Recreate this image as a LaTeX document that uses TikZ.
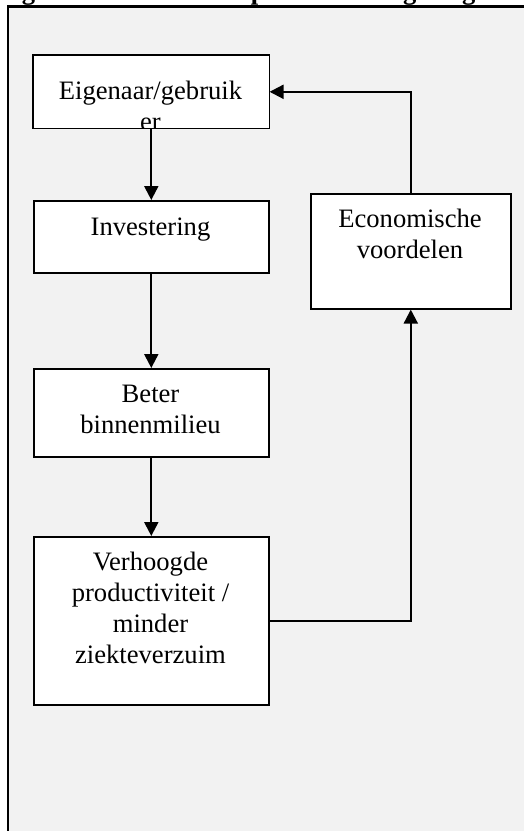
\documentclass[tikz,border=0pt]{standalone}
\usepackage{fontspec}
\setmainfont{Liberation Serif}
\usetikzlibrary{arrows.meta}
\definecolor{pagegray}{HTML}{F2F2F2}
\tikzset{
  boxnode/.style={draw=black, line width=1.6pt, fill=white, anchor=north west, inner sep=0pt},
  txt/.style={font=\fontsize{26.6pt}{31pt}\selectfont, align=center, inner sep=0pt, anchor=base},
  arr/.style={draw=black, line width=2.1pt, -{Triangle[length=14pt,width=14pt]}}
}
\begin{document}
\begin{tikzpicture}[x=1pt,y=-1pt]
\useasboundingbox (0,0) rectangle (523,831);
% page frame
\fill[white] (0,0) rectangle (523,831);
\fill[pagegray] (8,6.5) rectangle (530,840);
\draw[line width=2.5pt] (8,840) -- (8,6.5) -- (530,6.5);
% cut-off title
\begin{scope}
\clip (0,0) rectangle (523,5.5);
\node[txt, anchor=base west, font=\bfseries\fontsize{26.6pt}{31pt}\selectfont] (title) at (-2,-1) {Figuur 1: Staat Conceptueel model gevolgtrekking};
\end{scope}
% boxes
\node[boxnode, draw=none, minimum width=235pt, minimum height=72pt] (eig) at (33,55) {};
\node[boxnode, minimum width=235pt, minimum height=72pt] (inv) at (33,200) {};
\node[boxnode, minimum width=235pt, minimum height=88pt] (bet) at (33,368) {};
\node[boxnode, minimum width=235pt, minimum height=168pt] (ver) at (33,536) {};
\node[boxnode, minimum width=200pt, minimum height=115pt] (eco) at (310,193) {};
% texts (anchor=base is the baseline of the last line)
\begin{scope}
\clip (33,55) rectangle (268,127);
\node[txt] (eigt) at (150.5,130) {Eigenaar/gebruik\\er};
\end{scope}
\draw[line width=1.6pt] (eig.north west) rectangle (eig.south east);
\node[txt] (invt) at (150.5,235) {Investering};
\node[txt] (bett) at (150.5,433) {Beter\\binnenmilieu};
\node[txt] (vert) at (150.5,663) {Verhoogde\\productiviteit /\\minder\\ziekteverzuim};
\node[txt] (ecot) at (410,258) {Economische\\voordelen};
% connectors
\draw[arr] (eig.south) -- (inv.north);
\draw[arr] (inv.south) -- (bet.north);
\draw[arr] (bet.south) -- (ver.north);
\draw[arr] (ver.east) -| (eco.south);
\draw[arr] (eco.north) |- (eig.east);
\end{tikzpicture}
\end{document}
